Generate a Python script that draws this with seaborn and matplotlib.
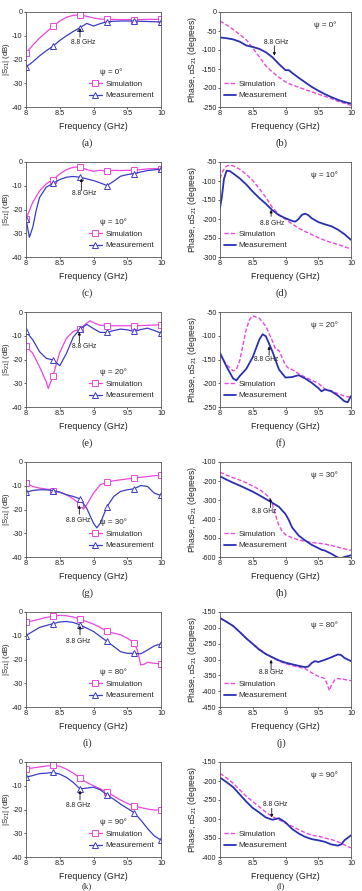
import numpy as np
import pandas as pd
import matplotlib
matplotlib.use('Agg')
import matplotlib.pyplot as plt
from matplotlib.lines import Line2D
import seaborn as sns

sns.set_theme(style='ticks')
plt.rcParams['font.family'] = ['Liberation Sans', 'DejaVu Sans']
plt.rcParams['mathtext.default'] = 'regular'

SIM = '#EC46DC'
MEAS = '#3C3CC6'
MEAS_PH = '#2A30B4'

# common frequency grid (GHz)
freq = [8.0, 8.1, 8.2, 8.3, 8.4, 8.5, 8.6, 8.7, 8.8, 8.9, 9.0,
        9.1, 9.2, 9.3, 9.4, 9.5, 9.6, 9.7, 9.8, 9.9, 10.0]
marker_freq = [8.0, 8.4, 8.8, 9.2, 9.6, 10.0]
xticks = [8, 8.5, 9, 9.5, 10]
xtick_labels = ['8', '8.5', '9', '9.5', '10']

# ---- |S21| (dB) ----
# (a) psi = 0
sim_a = [-17.3, -14.0, -11.0, -8.5, -6.1, -3.8, -2.2, -1.4, -1.3, -1.8, -2.5,
         -3.0, -3.1, -3.1, -3.2, -3.2, -3.2, -3.2, -3.1, -3.1, -3.1]
meas_a = [-23.2, -21.0, -18.5, -16.3, -14.4, -12.0, -10.0, -8.2, -6.6, -4.8, -5.9,
          -4.9, -4.1, -3.9, -3.8, -3.8, -3.8, -3.9, -4.0, -4.1, -4.2]
# (c) psi = 10
sim_c = [-24.0, -17.0, -12.2, -9.2, -7.4, -5.0, -3.2, -2.2, -2.1, -3.2, -3.9,
         -3.5, -3.9, -3.5, -3.6, -3.5, -3.5, -3.2, -2.9, -2.8, -2.8]
freq_c_m = [8.0, 8.05, 8.1, 8.15, 8.2, 8.3, 8.4, 8.5, 8.6, 8.7, 8.8, 8.9, 9.0,
            9.1, 9.2, 9.3, 9.4, 9.5, 9.6, 9.7, 9.8, 9.9, 10.0]
meas_c = [-24.0, -31.7, -27.5, -20.5, -15.0, -10.6, -9.0, -7.4, -6.4, -6.1, -6.4, -7.1, -7.8,
          -8.8, -9.9, -8.1, -6.0, -5.3, -4.9, -4.2, -3.6, -3.3, -3.0]
# (e) psi = 20
freq_e_s = [8.0, 8.1, 8.2, 8.3, 8.33, 8.4, 8.5, 8.6, 8.7, 8.8, 8.9, 8.95, 9.0,
            9.1, 9.2, 9.3, 9.4, 9.5, 9.6, 9.7, 9.8, 9.9, 10.0]
sim_e = [-14.3, -17.4, -23.0, -29.4, -32.2, -26.8, -17.0, -11.0, -8.2, -7.2, -4.7, -3.7, -4.5,
         -5.6, -5.8, -5.8, -5.8, -5.8, -5.8, -5.7, -5.6, -5.5, -5.4]
meas_e = [-8.2, -11.7, -16.7, -19.5, -20.2, -22.6, -17.4, -10.6, -7.2, -5.2, -7.0,
          -8.6, -8.6, -7.8, -7.2, -7.5, -8.2, -7.4, -6.8, -7.8, -8.9]
# (g) psi = 30
freq_g_s = [8.0, 8.1, 8.2, 8.3, 8.4, 8.5, 8.6, 8.7, 8.8, 8.85, 8.9, 9.0,
            9.1, 9.2, 9.3, 9.4, 9.5, 9.6, 9.7, 9.8, 9.9, 10.0]
sim_g = [-8.9, -10.3, -11.0, -11.4, -12.0, -12.7, -13.8, -15.5, -17.8, -19.8, -18.0, -13.1,
         -9.6, -8.5, -7.9, -7.5, -7.1, -6.8, -6.4, -6.1, -5.8, -5.6]
freq_g_m = [8.0, 8.1, 8.2, 8.3, 8.4, 8.5, 8.6, 8.7, 8.8, 8.9, 9.0, 9.05,
            9.1, 9.2, 9.3, 9.4, 9.5, 9.6, 9.7, 9.8, 9.9, 10.0]
meas_g = [-12.7, -12.0, -11.7, -11.7, -12.0, -12.7, -13.8, -14.5, -15.5, -19.5, -25.8, -27.7,
          -25.8, -18.8, -14.5, -12.4, -11.7, -11.3, -9.9, -10.3, -13.1, -14.1]
# (i) psi = 80
freq_i_s = [8.0, 8.1, 8.2, 8.3, 8.4, 8.5, 8.6, 8.7, 8.8, 8.9, 9.0, 9.1, 9.2, 9.3, 9.4,
            9.5, 9.6, 9.65, 9.7, 9.75, 9.8, 9.9, 10.0]
sim_i = [-4.4, -3.7, -3.0, -2.3, -1.8, -1.4, -1.6, -2.1, -3.0, -4.0, -5.1, -6.5, -8.2, -8.9, -9.6,
         -11.0, -12.9, -16.0, -22.3, -22.0, -21.2, -21.6, -21.9]
meas_i = [-9.9, -8.2, -6.5, -5.7, -4.9, -4.2, -4.0, -4.4, -5.4, -6.8, -8.2,
          -10.3, -12.4, -14.5, -16.7, -17.4, -17.4, -17.6, -16.0, -14.3, -13.4]
# (k) psi = 90
sim_k = [-3.0, -2.5, -2.1, -1.7, -1.4, -1.8, -3.0, -4.7, -6.8, -8.6, -10.0,
         -11.3, -12.7, -14.3, -16.0, -17.4, -18.5, -19.2, -19.8, -20.2, -20.2]
meas_k = [-6.4, -5.7, -4.9, -4.7, -4.4, -5.1, -6.5, -8.6, -11.3, -11.0, -10.6,
          -11.7, -13.8, -15.7, -17.7, -19.5, -21.3, -24.4, -28.0, -31.1, -32.9]

# ---- phase (degrees) ----
# (b)
sim_b = [-24, -34, -46, -59, -73, -95, -118, -142, -158, -172, -184,
         -192, -198, -204, -210, -216, -222, -228, -235, -240, -246]
freq_b_m = [8.0, 8.1, 8.2, 8.3, 8.4, 8.5, 8.6, 8.7, 8.8, 8.9, 9.0, 9.05,
            9.1, 9.2, 9.3, 9.4, 9.5, 9.6, 9.7, 9.8, 9.9, 10.0]
meas_b = [-67, -69, -72, -78, -88, -92, -97, -106, -119, -137, -153, -153,
          -160, -173, -185, -197, -207, -216, -224, -231, -237, -241]
# (d)
freq_d_s = [8.0, 8.05, 8.1, 8.15, 8.2, 8.3, 8.4, 8.5, 8.6, 8.7, 8.8, 8.9, 9.0,
            9.1, 9.2, 9.3, 9.4, 9.5, 9.6, 9.7, 9.8, 9.9, 10.0]
sim_d = [-93, -72, -61, -58, -60, -69, -82, -99, -120, -143, -170, -188, -201,
         -213, -224, -233, -241, -249, -256, -262, -267, -273, -279]
freq_d_m = [8.0, 8.03, 8.06, 8.1, 8.15, 8.2, 8.3, 8.4, 8.5, 8.6, 8.7, 8.8, 8.9, 9.0,
            9.1, 9.15, 9.2, 9.25, 9.3, 9.35, 9.4, 9.5, 9.6, 9.7, 9.8, 9.9, 10.0]
meas_d = [-171, -140, -95, -73, -74, -80, -93, -109, -128, -145, -160, -177, -190, -198,
          -205, -207, -200, -189, -186, -190, -198, -208, -214, -219, -228, -240, -255]
# (f)
freq_f_s = [8.0, 8.1, 8.2, 8.25, 8.3, 8.4, 8.45, 8.5, 8.6, 8.7, 8.8, 8.85, 8.9,
            9.0, 9.05, 9.1, 9.2, 9.3, 9.4, 9.5, 9.6, 9.7, 9.8, 9.9, 10.0]
sim_f = [-140, -161, -174, -171, -153, -87, -66, -58, -63, -80, -111, -129, -131,
         -162, -169, -171, -180, -187, -194, -200, -212, -216, -222, -227, -230]
freq_f_m = [8.0, 8.1, 8.2, 8.25, 8.3, 8.4, 8.5, 8.6, 8.65, 8.7, 8.8, 8.9, 9.0,
            9.1, 9.2, 9.3, 9.4, 9.5, 9.55, 9.6, 9.7, 9.8, 9.9, 9.95, 10.0]
meas_f = [-136, -165, -190, -194, -185, -170, -145, -108, -97, -101, -133, -171, -188,
          -187, -183, -190, -199, -210, -217, -213, -217, -226, -238, -240, -227]
# (h)
freq_h_s = [8.0, 8.1, 8.2, 8.3, 8.4, 8.5, 8.6, 8.7, 8.75, 8.8, 8.85, 8.9, 8.95, 9.0,
            9.1, 9.2, 9.3, 9.4, 9.5, 9.6, 9.7, 9.8, 9.9, 10.0]
sim_h = [-154, -169, -183, -195, -209, -227, -244, -270, -288, -322, -383, -435, -465, -482,
         -499, -510, -517, -524, -527, -532, -539, -548, -557, -565]
freq_h_m = [8.0, 8.1, 8.2, 8.3, 8.4, 8.5, 8.6, 8.7, 8.8, 8.9, 9.0, 9.05,
            9.1, 9.2, 9.3, 9.4, 9.5, 9.55, 9.6, 9.7, 9.8, 9.85, 9.9, 10.0]
meas_h = [-175, -193, -209, -224, -240, -256, -275, -295, -315, -336, -374, -405,
          -444, -487, -513, -536, -553, -562, -566, -583, -603, -606, -600, -591]
# (j)
freq_j_s = [8.0, 8.1, 8.2, 8.3, 8.4, 8.5, 8.6, 8.7, 8.8, 8.9, 9.0, 9.1, 9.2, 9.3, 9.4,
            9.5, 9.6, 9.63, 9.67, 9.7, 9.75, 9.8, 9.9, 10.0]
sim_j = [-169, -181, -194, -213, -233, -251, -267, -282, -294, -305, -313, -319, -324, -329, -342,
         -353, -360, -375, -398, -382, -365, -360, -363, -367]
freq_j_m = [8.0, 8.1, 8.2, 8.3, 8.4, 8.5, 8.6, 8.7, 8.8, 8.9, 9.0, 9.1, 9.2, 9.3, 9.35,
            9.4, 9.45, 9.5, 9.6, 9.7, 9.8, 9.85, 9.9, 10.0]
meas_j = [-169, -181, -194, -213, -233, -251, -269, -283, -293, -303, -310, -315, -320, -324, -322,
          -311, -305, -308, -301, -293, -284, -286, -295, -305]
# (l)
sim_l = [-180, -192, -206, -223, -240, -254, -268, -282, -294, -302, -311,
         -319, -328, -336, -343, -345, -350, -354, -360, -368, -376]
freq_l_m = [8.0, 8.1, 8.2, 8.3, 8.4, 8.5, 8.6, 8.7, 8.8, 8.9, 9.0,
            9.1, 9.2, 9.3, 9.4, 9.5, 9.6, 9.7, 9.8, 9.85, 9.9, 10.0]
meas_l = [-191, -203, -216, -235, -254, -271, -283, -296, -302, -298, -309,
          -326, -338, -347, -353, -356, -360, -367, -370, -367, -356, -343]

psi_labels = ['ψ = 0°', 'ψ = 10°', 'ψ = 20°', 'ψ = 30°', 'ψ = 80°', 'ψ = 90°']
captions = ['(a)', '(b)', '(c)', '(d)', '(e)', '(f)',
            '(g)', '(h)', '(i)', '(j)', '(k)', '(l)']

mag_panels = [
    (freq, sim_a, freq, meas_a),
    (freq, sim_c, freq_c_m, meas_c),
    (freq_e_s, sim_e, freq, meas_e),
    (freq_g_s, sim_g, freq_g_m, meas_g),
    (freq_i_s, sim_i, freq, meas_i),
    (freq, sim_k, freq, meas_k),
]
phase_panels = [
    (freq, sim_b, freq_b_m, meas_b, (-250, 0), 50),
    (freq_d_s, sim_d, freq_d_m, meas_d, (-300, -50), 50),
    (freq_f_s, sim_f, freq_f_m, meas_f, (-250, -50), 50),
    (freq_h_s, sim_h, freq_h_m, meas_h, (-600, -100), 100),
    (freq_j_s, sim_j, freq_j_m, meas_j, (-450, -150), 50),
    (freq, sim_l, freq_l_m, meas_l, (-400, -150), 50),
]

# annotation layout: arrow x, arrow tail y, arrow head y, text x, text y
mag_notes = [(8.8, -10.6, -6.8, 8.85, -12.7), (8.82, -12.0, -6.9, 8.86, -13.4),
             (8.79, -13.0, -8.4, 8.86, -14.4), (8.79, -22.0, -18.2, 8.77, -24.5),
             (8.8, -9.6, -5.8, 8.78, -12.3), (8.8, -16.0, -12.0, 8.78, -18.5)]
phase_notes = [(8.83, -89, -115, 8.86, -80), (8.78, -193, -176, 8.8, -212),
               (8.75, -141, -122, 8.71, -151), (8.77, -340, -290, 8.67, -362),
               (8.78, -331, -301, 8.78, -340), (8.79, -272, -296, 8.84, -262)]

W, H = 362, 891
fig = plt.figure(figsize=(W / 100, H / 100), dpi=100)


def add_px_axes(x, top, w, h):
    return fig.add_axes([x / W, 1 - (top + h) / H, w / W, h / H])


def marker_idx(fs):
    return [i for i, f in enumerate(fs) if any(np.isclose(f, mf) for mf in marker_freq)]


def style_axes(ax, ylim, ystep):
    ax.set_xlim(8, 10)
    ax.set_ylim(*ylim)
    ax.set_xticks(xticks)
    ax.set_xticklabels(xtick_labels)
    yt = list(range(ylim[0], ylim[1] + 1, ystep))
    ax.set_yticks(yt)
    ax.set_yticklabels([str(v) for v in yt])
    ax.tick_params(labelsize=5.2, length=1.2, width=0.5, pad=1.2, colors='#222222')
    for sp in ax.spines.values():
        sp.set_visible(True)
        sp.set_linewidth(0.6)
        sp.set_color('#555555')
    ax.set_xlabel('Frequency (GHz)', fontsize=6.4, color='#222222')
    ax.xaxis.set_label_coords(0.5, -0.16)


def annotate(ax, note):
    ax_x, y0, y1, tx, ty = note
    ax.annotate('', xy=(ax_x, y1), xytext=(ax_x, y0),
                arrowprops=dict(arrowstyle='-|>', color='#111111', lw=0.6,
                                mutation_scale=4, shrinkA=0, shrinkB=0))
    ax.text(tx, ty, '8.8 GHz', fontsize=4.9, ha='center', va='center', color='#222222')


for r in range(6):
    top = 12 + 150 * r
    if r < 5:
        cap_y, cap_va, cap_fs = top + 131, 'center', 7.5
    else:
        cap_y, cap_va, cap_fs = 890.5, 'bottom', 6.5

    # left: magnitude
    ax = add_px_axes(26, top, 135, 95)
    fs, s, fm, m = mag_panels[r]
    sns.lineplot(x=fs, y=s, ax=ax, color=SIM, linewidth=0.9, marker='s', markersize=3.8,
                 markerfacecolor='white', markeredgecolor=SIM, markeredgewidth=0.7,
                 markevery=marker_idx(fs), estimator=None, sort=False)
    sns.lineplot(x=fm, y=m, ax=ax, color=MEAS, linewidth=0.9, marker='^', markersize=4.0,
                 markerfacecolor='white', markeredgecolor=MEAS, markeredgewidth=0.7,
                 markevery=marker_idx(fm), estimator=None, sort=False)
    style_axes(ax, (-40, 0), 10)
    ax.set_ylabel('|S$_{21}$| (dB)', fontsize=5.6, color='#222222')
    ax.yaxis.set_label_coords(-0.105, 0.5)
    h_sim = Line2D([], [], color=SIM, lw=0.9, marker='s', ms=3.8, mfc='white', mec=SIM, mew=0.7)
    h_meas = Line2D([], [], color=MEAS, lw=0.9, marker='^', ms=4.0, mfc='white', mec=MEAS, mew=0.7)
    ax.legend([h_sim, h_meas], ['Simulation', 'Measurement'], loc='lower left',
              bbox_to_anchor=(0.47, 0.08), frameon=False, borderpad=0, borderaxespad=0,
              handlelength=1.5, handletextpad=0.5, labelspacing=0.45, fontsize=5.8)
    ax.text(0.55, 0.37, psi_labels[r], transform=ax.transAxes, fontsize=5.8,
            ha='left', va='center', color='#222222')
    annotate(ax, mag_notes[r])
    fig.text(87 / W, 1 - cap_y / H, captions[2 * r], fontsize=cap_fs,
             family='Liberation Serif', ha='center', va=cap_va)

    # right: phase
    ax = add_px_axes(220, top, 131, 95)
    fs, s, fm, m, ylim, ystep = phase_panels[r]
    sns.lineplot(x=fs, y=s, ax=ax, color=SIM, linewidth=1.0, linestyle=(0, (3, 1.5)),
                 estimator=None, sort=False)
    sns.lineplot(x=fm, y=m, ax=ax, color=MEAS_PH, linewidth=1.3, estimator=None, sort=False)
    style_axes(ax, ylim, ystep)
    ax.set_ylabel('Phase, ∠S$_{21}$ (degrees)', fontsize=6.2, color='#222222')
    ax.yaxis.set_label_coords(-0.16, 0.5)
    h_sim = Line2D([], [], color=SIM, lw=1.0, linestyle=(0, (3, 1.5)))
    h_meas = Line2D([], [], color=MEAS_PH, lw=1.3)
    ax.legend([h_sim, h_meas], ['Simulation', 'Measurement'], loc='lower left',
              bbox_to_anchor=(0.03, 0.08), frameon=False, borderpad=0, borderaxespad=0,
              handlelength=1.5, handletextpad=0.35, labelspacing=0.45, fontsize=5.8)
    ax.text(0.8, 0.86, psi_labels[r], transform=ax.transAxes, fontsize=5.8,
            ha='center', va='center', color='#222222')
    annotate(ax, phase_notes[r])
    fig.text(281 / W, 1 - cap_y / H, captions[2 * r + 1], fontsize=cap_fs,
             family='Liberation Serif', ha='center', va=cap_va)

fig.savefig('out.png', dpi=100, facecolor='white')
